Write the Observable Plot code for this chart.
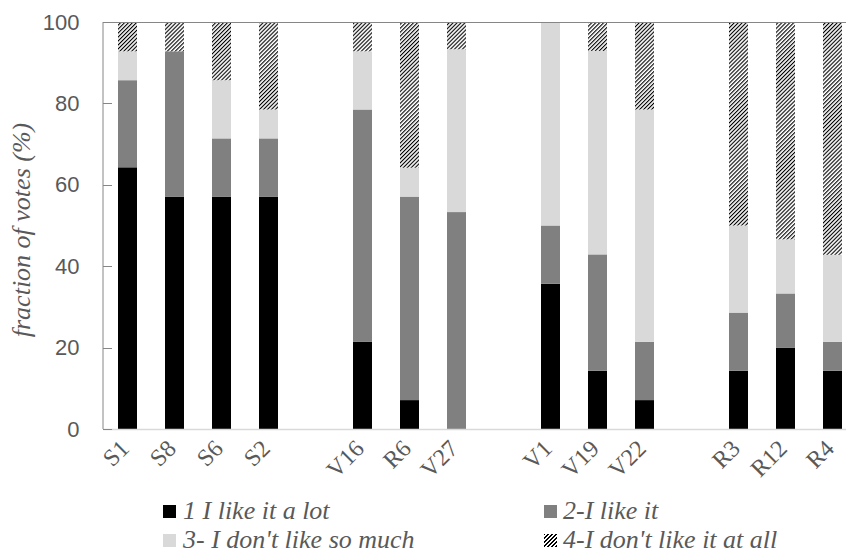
<!DOCTYPE html>
<html><head><meta charset="utf-8">
<script src="https://cdn.jsdelivr.net/npm/d3@7"></script>
<script src="https://cdn.jsdelivr.net/npm/@observablehq/plot@0.6"></script>
<style>
body{margin:0;background:#fff;}
#wrap{position:relative;width:846px;height:554px;overflow:hidden;}
#wrap svg{position:absolute;left:0;top:0;overflow:hidden;}
.leg{position:absolute;font-family:"Liberation Serif","Times New Roman",serif;font-style:italic;font-size:26px;color:#595959;white-space:nowrap;line-height:1;}
.sw{position:absolute;width:13px;height:13px;}
</style></head><body><div id="wrap"></div>
<script>
// categories (bars) and slots (with empty gap slots between groups)
const categories = ["S1","S8","S6","S2","V16","R6","V27","V1","V19","V22","R3","R12","R4"];
const slots = ["S1","S8","S6","S2","gap1","V16","R6","V27","gap2","V1","V19","V22","gap3","R3","R12","R4"];
const levels = ["1 I like it a lot","2-I like it","3- I don't like so much","4-I don't like it at all"];
// fraction of votes (%) per level
const likeALot      = [64.3, 57.1, 57.1, 57.1, 21.4,  7.1,  0.0, 35.7, 14.3,  7.1, 14.3, 20.0, 14.3];
const likeIt        = [21.4, 35.7, 14.3, 14.3, 57.1, 50.0, 53.3, 14.3, 28.6, 14.3, 14.3, 13.3,  7.1];
const dontLikeMuch  = [ 7.1,  0.0, 14.3,  7.1, 14.3,  7.1, 40.0, 50.0, 50.0, 57.1, 21.4, 13.3, 21.4];
const dontLikeAtAll = [ 7.1,  7.1, 14.3, 21.4,  7.1, 35.7,  6.7,  0.0,  7.1, 21.4, 50.0, 53.3, 57.1];
const yTicks = [0, 20, 40, 60, 80, 100];
const levelColors = ["#000000", "#808080", "#d9d9d9", "url(#hatch)"];

const series = [likeALot, likeIt, dontLikeMuch, dontLikeAtAll];
const rows = [];
categories.forEach((c, i) => {
  series.forEach((s, k) => rows.push({cat: c, level: levels[k], value: s[i]}));
});

const W = 846, H = 490;
const plot = Plot.plot({
  width: W, height: H,
  marginLeft: 103, marginRight: 0, marginTop: 22, marginBottom: 61,
  style: {background: "white", overflow: "hidden"},
  x: {domain: slots, range: [104, 856], paddingInner: 0.606, paddingOuter: 0.303, axis: null},
  y: {domain: [0, 100], axis: null},
  color: {domain: levels, range: levelColors},
  marks: [
    Plot.barY(rows, {x: "cat", y: "value", fill: "level"}),
    Plot.ruleY([100], {stroke: "#868686", strokeWidth: 1}),
    Plot.ruleY([0], {stroke: "#d9d9d9", strokeWidth: 1.3}),
    Plot.axisY({ticks: yTicks, tickSize: 0, tickPadding: 24, fill: "#595959", fontSize: 22,
      fontFamily: "Liberation Sans, Arial, sans-serif", label: null}),
    Plot.text(categories, {x: d => d, text: d => d, frameAnchor: "bottom", dx: -3, dy: 15, rotate: -45,
      textAnchor: "end", lineAnchor: "middle", fill: "#595959", fontSize: 24,
      fontFamily: "Liberation Serif, Times New Roman, serif"}),
    Plot.text(["fraction of votes (%)"], {frameAnchor: "left", dx: -82, dy: 4, rotate: -90,
      textAnchor: "middle", lineAnchor: "middle",
      fill: "#595959", fontSize: 26, fontStyle: "italic",
      fontFamily: "Liberation Serif, Times New Roman, serif"})
  ]
});

// hatch pattern, left axis line and inward tick marks
const svg = d3.select(plot);
const defs = svg.insert("defs", ":first-child");
const pat = defs.append("pattern").attr("id", "hatch").attr("patternUnits", "userSpaceOnUse")
  .attr("width", 2.8).attr("height", 10).attr("patternTransform", "rotate(45)");
pat.append("rect").attr("width", 2.8).attr("height", 10).attr("fill", "white");
pat.append("rect").attr("width", 1.1).attr("height", 10).attr("fill", "black");
const ys = plot.scale("y");
svg.append("line").attr("x1", 103).attr("x2", 103)
  .attr("y1", ys.apply(0)).attr("y2", ys.apply(100)).attr("stroke", "#868686");
svg.append("g").selectAll("line").data(yTicks).join("line")
  .attr("x1", 103).attr("x2", 112)
  .attr("y1", d => Math.round(ys.apply(d)) + 0.5).attr("y2", d => Math.round(ys.apply(d)) + 0.5)
  .attr("stroke", "#868686");

const wrap = document.getElementById("wrap");
wrap.appendChild(plot);

// legend (HTML, below the SVG)
const legPos = [
  {sx: 163, tx: 183, cy: 511}, {sx: 544, tx: 563, cy: 511},
  {sx: 163, tx: 183, cy: 540}, {sx: 544, tx: 563, cy: 540}
];
const swatchCss = ["#000000", "#808080", "#d9d9d9",
  "repeating-linear-gradient(135deg, #000 0 1.1px, #fff 1.1px 2.8px)"];
levels.forEach((lab, k) => {
  const p = legPos[k];
  const sw = document.createElement("div");
  sw.className = "sw";
  sw.style.left = p.sx + "px"; sw.style.top = (p.cy - 6.5) + "px";
  sw.style.background = swatchCss[k];
  wrap.appendChild(sw);
  const t = document.createElement("div");
  t.className = "leg";
  t.textContent = lab;
  t.style.left = p.tx + "px"; t.style.top = (p.cy - 13) + "px";
  wrap.appendChild(t);
});
</script></body></html>
